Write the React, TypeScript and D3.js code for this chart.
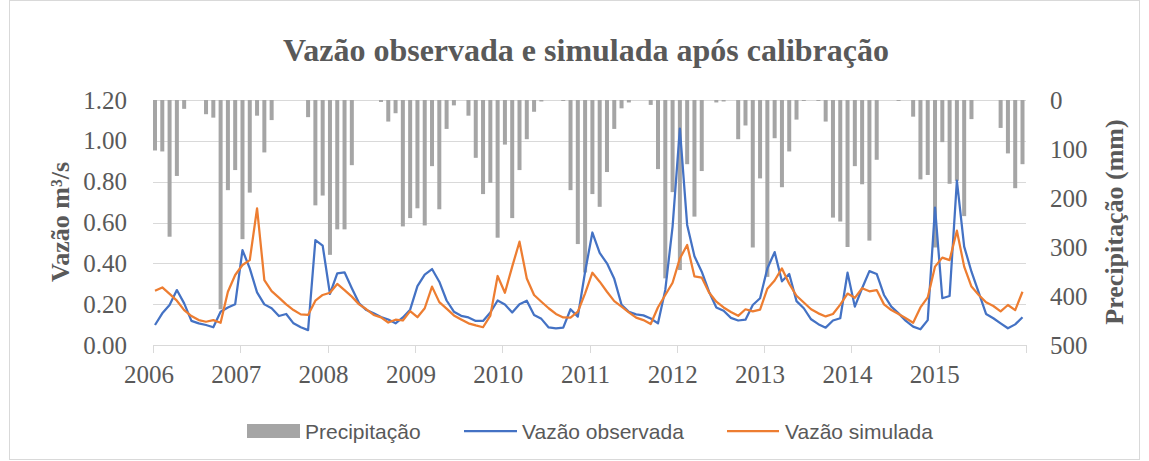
import React from 'react';
import * as d3 from 'd3';

const years = [2006, 2007, 2008, 2009, 2010, 2011, 2012, 2013, 2014, 2015];

const precipitation = [
  103, 105, 279, 155, 18, 0, 0, 29, 36, 427, 184, 143,
  284, 189, 32, 107, 41, 0, 0, 0, 0, 35, 215, 195,
  316, 264, 264, 133, 0, 0, 0, 4, 44, 27, 258, 241,
  221, 256, 135, 223, 59, 11, 0, 32, 118, 192, 169, 281,
  91, 241, 143, 80, 24, 3, 0, 0, 2, 184, 294, 352,
  192, 218, 147, 59, 17, 5, 0, 0, 10, 141, 364, 188,
  347, 131, 238, 145, 0, 5, 3, 0, 80, 52, 301, 160,
  361, 78, 178, 105, 40, 2, 0, 2, 44, 240, 248, 300,
  135, 172, 287, 122, 0, 0, 2, 0, 34, 162, 153, 301,
  86, 171, 165, 237, 39, 0, 0, 0, 57, 109, 180, 131,
];

const observed = [
  0.098, 0.155, 0.196, 0.269, 0.204, 0.118, 0.106, 0.098, 0.087, 0.163, 0.184, 0.2,
  0.465, 0.375, 0.258, 0.199, 0.18, 0.142, 0.152, 0.106, 0.087, 0.073, 0.514, 0.487,
  0.25, 0.351, 0.356, 0.278, 0.204, 0.171, 0.155, 0.137, 0.125, 0.106, 0.135, 0.173,
  0.288, 0.345, 0.372, 0.31, 0.218, 0.163, 0.143, 0.135, 0.118, 0.118, 0.159, 0.218,
  0.198, 0.159, 0.2, 0.217, 0.147, 0.128, 0.086, 0.082, 0.085, 0.175, 0.139, 0.359,
  0.551, 0.451, 0.4, 0.324, 0.197, 0.162, 0.15, 0.145, 0.13, 0.106, 0.27, 0.58,
  1.06, 0.588, 0.435, 0.359, 0.261, 0.184, 0.168, 0.133, 0.12, 0.124, 0.196, 0.229,
  0.375, 0.455, 0.312, 0.348, 0.215, 0.18, 0.126, 0.102, 0.085, 0.12, 0.131, 0.354,
  0.188, 0.278, 0.362, 0.348, 0.245, 0.188, 0.155, 0.118, 0.09, 0.077, 0.122, 0.673,
  0.229, 0.24, 0.805, 0.482, 0.359, 0.256, 0.152, 0.131, 0.106, 0.082, 0.101, 0.136,
];

const simulated = [
  0.266, 0.282, 0.25, 0.217, 0.171, 0.142, 0.122, 0.114, 0.122, 0.109, 0.261, 0.343,
  0.392, 0.416, 0.669, 0.318, 0.264, 0.232, 0.199, 0.171, 0.15, 0.147, 0.217, 0.245,
  0.256, 0.299, 0.269, 0.237, 0.199, 0.175, 0.147, 0.135, 0.11, 0.124, 0.12, 0.166,
  0.136, 0.18, 0.286, 0.21, 0.178, 0.145, 0.125, 0.106, 0.096, 0.087, 0.144, 0.338,
  0.256, 0.384, 0.506, 0.326, 0.245, 0.212, 0.18, 0.152, 0.135, 0.134, 0.163, 0.253,
  0.354, 0.31, 0.261, 0.215, 0.188, 0.16, 0.134, 0.122, 0.103, 0.185, 0.245, 0.305,
  0.424, 0.49, 0.336, 0.33, 0.257, 0.212, 0.184, 0.162, 0.143, 0.175, 0.165, 0.173,
  0.276, 0.316, 0.375, 0.3, 0.241, 0.208, 0.175, 0.155, 0.14, 0.152, 0.198, 0.252,
  0.231, 0.278, 0.263, 0.269, 0.199, 0.171, 0.152, 0.131, 0.109, 0.184, 0.233, 0.384,
  0.428, 0.416, 0.56, 0.384, 0.286, 0.245, 0.209, 0.191, 0.165, 0.196, 0.171, 0.261,
];

const leftTicks = [0, 0.2, 0.4, 0.6, 0.8, 1.0, 1.2];
const rightTicks = [0, 100, 200, 300, 400, 500];

const TEXT = '#595959';
const GRID = '#D9D9D9';
const SERIF = '"Liberation Serif", "Times New Roman", serif';
const SANS = '"Liberation Sans", Arial, sans-serif';

export default function App() {
  const W = 1149;
  const H = 461;
  const x = d3.scaleLinear().domain([0, precipitation.length - 1]).range([155, 1022.5]);
  const xYear = d3.scaleLinear().domain([2006, 2016]).range([153, 1026]);
  const yL = d3.scaleLinear().domain([0, 1.2]).range([345, 100]);
  const yR = d3.scaleLinear().domain([0, 500]).range([100, 345]);
  const fmt = d3.format('.2f');
  const line = d3
    .line<number>()
    .x((_, i) => x(i))
    .y((d) => yL(d));
  const tickYears = d3.range(2006, 2017);
  const barW = 4;

  return (
    <svg
      width={W}
      height={H}
      style={{ position: 'absolute', left: 0, top: 0, background: '#fff' }}
    >
      <rect x={0} y={0} width={W} height={H} fill="#fff" />
      <rect x={9.5} y={0.5} width={1130} height={459} fill="none" stroke={GRID} />
      <text
        x={586}
        y={61}
        textAnchor="middle"
        fontFamily={SERIF}
        fontWeight="bold"
        fontSize={32}
        fill={TEXT}
      >
        Vazão observada e simulada após calibração
      </text>

      {leftTicks.map((t) => (
        <line
          key={'g' + t}
          x1={xYear(2006)}
          x2={xYear(2016)}
          y1={Math.round(yL(t)) + 0.5}
          y2={Math.round(yL(t)) + 0.5}
          stroke={GRID}
          strokeWidth={1}
        />
      ))}
      {tickYears.map((yr) => (
        <line
          key={'t' + yr}
          x1={Math.round(xYear(yr)) + 0.5}
          x2={Math.round(xYear(yr)) + 0.5}
          y1={345}
          y2={353}
          stroke={GRID}
          strokeWidth={1}
        />
      ))}

      {precipitation.map((p, i) => (
        <rect
          key={'b' + i}
          x={x(i) - barW / 2}
          y={yR(0)}
          width={barW}
          height={yR(p) - yR(0)}
          fill="#A5A5A5"
        />
      ))}

      <path d={line(observed) || ''} fill="none" stroke="#4472C4" strokeWidth={2.25} strokeLinejoin="round" />
      <path d={line(simulated) || ''} fill="none" stroke="#ED7D31" strokeWidth={2.25} strokeLinejoin="round" />

      {leftTicks.map((t) => (
        <text
          key={'l' + t}
          x={127}
          y={yL(t)}
          dy="0.34em"
          textAnchor="end"
          fontFamily={SERIF}
          fontSize={25}
          fill={TEXT}
        >
          {fmt(t)}
        </text>
      ))}
      {rightTicks.map((t) => (
        <text
          key={'r' + t}
          x={1050}
          y={yR(t)}
          dy="0.34em"
          textAnchor="start"
          fontFamily={SERIF}
          fontSize={25}
          fill={TEXT}
        >
          {t}
        </text>
      ))}
      {years.map((yr) => (
        <text
          key={'y' + yr}
          x={xYear(yr) - 4}
          y={383}
          textAnchor="middle"
          fontFamily={SERIF}
          fontSize={25}
          fill={TEXT}
        >
          {yr}
        </text>
      ))}

      <text
        transform="translate(69,222) rotate(-90)"
        textAnchor="middle"
        fontFamily={SERIF}
        fontWeight="bold"
        fontSize={26}
        fill={TEXT}
      >
        Vazão m³/s
      </text>
      <text
        transform="translate(1123,222) rotate(-90)"
        textAnchor="middle"
        fontFamily={SERIF}
        fontWeight="bold"
        fontSize={26}
        fill={TEXT}
      >
        Precipitação (mm)
      </text>

      <rect x={247} y={424} width={53} height={14} fill="#A5A5A5" />
      <text x={305} y={438.5} fontFamily={SANS} fontSize={21} fill={TEXT}>
        Precipitação
      </text>
      <line x1={464} x2={517} y1={431} y2={431} stroke="#4472C4" strokeWidth={2.25} />
      <text x={522} y={438.5} fontFamily={SANS} fontSize={21} fill={TEXT}>
        Vazão observada
      </text>
      <line x1={727} x2={779} y1={431} y2={431} stroke="#ED7D31" strokeWidth={2.25} />
      <text x={785} y={438.5} fontFamily={SANS} fontSize={21} fill={TEXT}>
        Vazão simulada
      </text>
    </svg>
  );
}
